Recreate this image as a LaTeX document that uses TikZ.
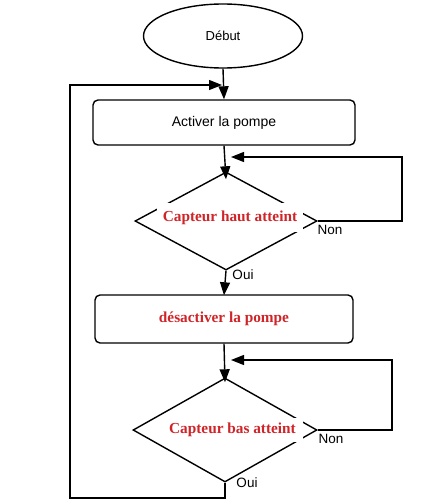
\documentclass[tikz,border=0pt]{standalone}
\usepackage{fontspec}
\usetikzlibrary{shapes.geometric,arrows.meta}
\newfontfamily\sansf{Liberation Sans}
\newfontfamily\seriff{Liberation Serif}
\definecolor{redtxt}{RGB}{208,36,40}
\tikzset{
  line/.style={line width=1.4pt},
  arr/.style={line, -{Triangle[length=13pt,width=10pt]}},
  procbox/.style={draw, line width=1.4pt, rounded corners=5pt, inner sep=0pt},
  decis/.style={draw, line width=1.4pt, diamond, inner sep=0pt},
  redlab/.style={fill=white, inner sep=0pt, text=redtxt, font=\seriff\bfseries\fontsize{15.3}{17}\selectfont},
  blklab/.style={inner sep=0pt, font=\sansf\fontsize{13.5}{15}\selectfont}
}
\begin{document}
\begin{tikzpicture}[x=1pt,y=-1pt]
\useasboundingbox[fill=white] (0,0) rectangle (427,500);
% nodes
\node[draw, line width=1.4pt, ellipse, minimum width=159pt, minimum height=64pt, inner sep=0pt,
      font=\sansf\fontsize{13}{15}\selectfont] (e) at (223,36) {Début};
\node[procbox, minimum width=262pt, minimum height=45pt, font=\sansf\fontsize{14}{16}\selectfont] (b1) at (224,122.5) {Activer la pompe};
\node[decis, minimum width=182pt, minimum height=98pt] (d1) at (226,221) {};
\node[redlab, minimum width=146pt, minimum height=29pt] (t1) at (230,217.5) {Capteur haut atteint};
\node[procbox, minimum width=258pt, minimum height=48pt, text=redtxt, font=\seriff\bfseries\fontsize{15.3}{17}\selectfont] (b2) at (224,319) {désactiver la pompe};
\node[decis, minimum width=184pt, minimum height=104pt] (d2) at (225,430) {};
\node[redlab, minimum width=141pt, minimum height=24pt] (t2) at (232.5,430) {Capteur bas atteint};
% labels
\node[blklab] (n1) at (330,230) {Non};
\node[blklab] (o1) at (243,275) {Oui};
\node[blklab] (n2) at (331,439) {Non};
\node[blklab] (o2) at (247,483) {Oui};
% coordinates
\coordinate (j1) at (222,85);
\coordinate (j2) at (231,157);
\coordinate (j3) at (231,360);
% connectors
\draw[arr] (e.south) -- (b1.north);
\draw[arr] (b1.south) -- ([yshift=-8pt]d1.north);
\draw[arr] (d1.east) -- (402,221) -- (402,157) -- (j2);
\draw[arr] (d1.south) -- ([yshift=-1pt]b2.north);
\draw[arr] (b2.south) -- ([yshift=-5pt]d2.north);
\draw[arr] (d2.east) -- (392,430) -- (392,360) -- (j3);
\draw[arr] (d2.south) -- (225,498) -- (70,498) -- (70,85) -- (j1);
\end{tikzpicture}
\end{document}
